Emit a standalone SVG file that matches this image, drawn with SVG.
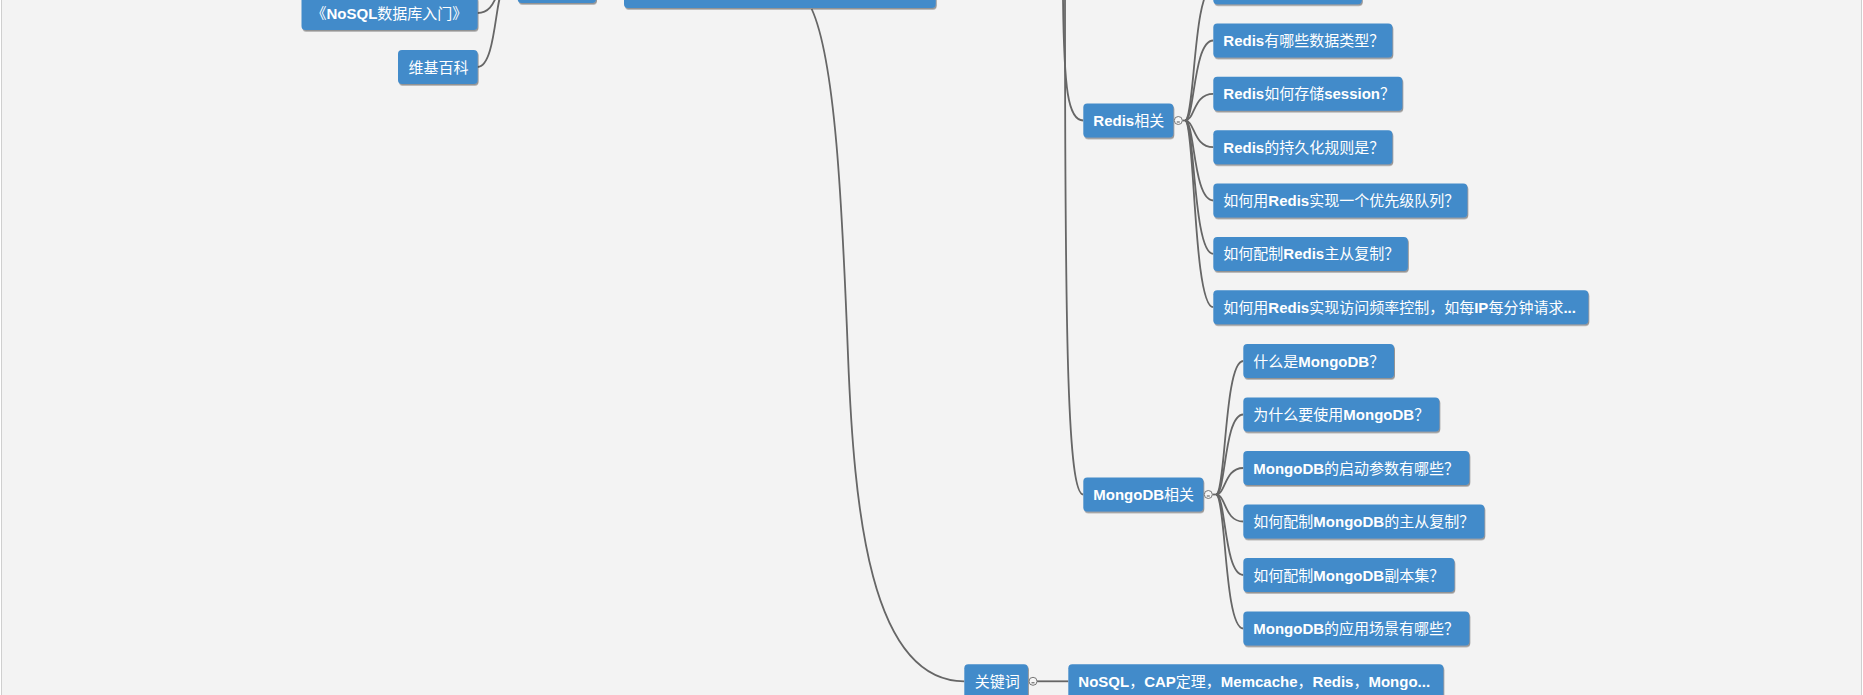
<svg xmlns="http://www.w3.org/2000/svg" width="1863" height="695" viewBox="0 0 1863 695">
<defs>
<style>
.bg{fill:#f3f3f3;stroke:#cfcfcf;stroke-width:1}
.n{fill:#428bca;filter:url(#ds)}
.t{font-family:'Liberation Sans','Noto Sans CJK SC',sans-serif;font-size:15px;fill:#ffffff}
.b{font-weight:bold}
.c{fill:none;stroke:#666666;stroke-width:1.8}
.tg{fill:#f6f6f6;stroke:#777777;stroke-width:1}
.tm{stroke:#555555;stroke-width:1}
</style>
<filter id="ds" x="-5%" y="-20%" width="115%" height="150%">
<feDropShadow dx="1" dy="1.6" stdDeviation="0.6" flood-color="#444444" flood-opacity="0.55"/>
</filter>
</defs>
<rect class="bg" x="1.5" y="-2" width="1860" height="700"/>

<g id="connectors">
<path class="c" d="M505,-13 C495,-13 497,13 477.6,13"/>
<path class="c" d="M505,-13 C495,-13 497,67 477.6,67"/>
<path class="c" d="M811.7,9 C835,60 842,200 848,355 S870,681.3 964.3,681.3"/>
<path class="c" d="M1063,-2 C1064,90 1068,120.5 1083.3,120.5"/>
<path class="c" d="M1065,-2 C1065,350 1068,494.5 1083.3,494.5"/>
<path class="c" d="M1182.3,120.5 L1185,120.5"/>
<path class="c" d="M1185,120.5 C1195,120.5 1193,-12.8 1213.3,-12.8"/>
<path class="c" d="M1185,120.5 C1195,120.5 1193,40.5 1213.3,40.5"/>
<path class="c" d="M1185,120.5 C1195,120.5 1193,93.8 1213.3,93.8"/>
<path class="c" d="M1185,120.5 C1195,120.5 1193,147.2 1213.3,147.2"/>
<path class="c" d="M1185,120.5 C1195,120.5 1193,200.5 1213.3,200.5"/>
<path class="c" d="M1185,120.5 C1195,120.5 1193,253.9 1213.3,253.9"/>
<path class="c" d="M1185,120.5 C1195,120.5 1193,307.2 1213.3,307.2"/>
<path class="c" d="M1212.3,494.5 L1216,494.5"/>
<path class="c" d="M1216,494.5 C1226,494.5 1224,361 1243.3,361"/>
<path class="c" d="M1216,494.5 C1226,494.5 1224,414.5 1243.3,414.5"/>
<path class="c" d="M1216,494.5 C1226,494.5 1224,468 1243.3,468"/>
<path class="c" d="M1216,494.5 C1226,494.5 1224,521.5 1243.3,521.5"/>
<path class="c" d="M1216,494.5 C1226,494.5 1224,575 1243.3,575"/>
<path class="c" d="M1216,494.5 C1226,494.5 1224,628.5 1243.3,628.5"/>
<path class="c" d="M1037,681.3 L1068.3,681.3"/>
</g>

<g id="node-left-parent"><rect class="n" x="517.7" y="-31" width="78.3" height="34" rx="4"/></g>
<g id="node-root"><rect class="n" x="624" y="-30" width="311.7" height="38" rx="4"/></g>
<g id="node-nosql-book"><rect class="n" x="301.5" y="-4" width="176" height="34" rx="4"/><text class="t" x="311.5" y="18.5">《<tspan class="b">NoSQL</tspan>数据库入门》</text></g>
<g id="node-wiki"><rect class="n" x="398" y="50" width="79.6" height="34" rx="4"/><text class="t" x="408.5" y="72.5">维基百科</text></g>

<g id="node-redis"><rect class="n" x="1083.3" y="103.5" width="90" height="34" rx="4"/><text class="t" x="1093.3" y="126"><tspan class="b">Redis</tspan>相关</text>
<circle class="tg" cx="1178.3" cy="120.5" r="4"/><line class="tm" x1="1176.8" y1="122" x2="1179.8" y2="122"/></g>
<g id="node-redis-0"><rect class="n" x="1213.3" y="-29.8" width="148.5" height="34" rx="4"/></g>
<g id="node-redis-1"><rect class="n" x="1213.3" y="23.5" width="179" height="34" rx="4"/><text class="t" x="1223.3" y="46"><tspan class="b">Redis</tspan>有哪些数据类型？</text></g>
<g id="node-redis-2"><rect class="n" x="1213.3" y="76.8" width="189" height="34" rx="4"/><text class="t" x="1223.3" y="99.3"><tspan class="b">Redis</tspan>如何存储<tspan class="b">session</tspan>？</text></g>
<g id="node-redis-3"><rect class="n" x="1213.3" y="130.2" width="179" height="34" rx="4"/><text class="t" x="1223.3" y="152.7"><tspan class="b">Redis</tspan>的持久化规则是？</text></g>
<g id="node-redis-4"><rect class="n" x="1213.3" y="183.5" width="254" height="34" rx="4"/><text class="t" x="1223.3" y="206">如何用<tspan class="b">Redis</tspan>实现一个优先级队列？</text></g>
<g id="node-redis-5"><rect class="n" x="1213.3" y="236.9" width="194.5" height="34" rx="4"/><text class="t" x="1223.3" y="259.4">如何配制<tspan class="b">Redis</tspan>主从复制？</text></g>
<g id="node-redis-6"><rect class="n" x="1213.3" y="290.2" width="375" height="34" rx="4"/><text class="t" x="1223.3" y="312.7">如何用<tspan class="b">Redis</tspan>实现访问频率控制，如每<tspan class="b">IP</tspan>每分钟请求<tspan class="b">...</tspan></text></g>

<g id="node-mongo"><rect class="n" x="1083.3" y="477.5" width="120" height="34" rx="4"/><text class="t" x="1093.3" y="500"><tspan class="b">MongoDB</tspan>相关</text>
<circle class="tg" cx="1208.3" cy="494.5" r="4"/><line class="tm" x1="1206.8" y1="496" x2="1209.8" y2="496"/></g>
<g id="node-mongo-0"><rect class="n" x="1243.3" y="344" width="150.7" height="34" rx="4"/><text class="t" x="1253.3" y="366.5">什么是<tspan class="b">MongoDB</tspan>？</text></g>
<g id="node-mongo-1"><rect class="n" x="1243.3" y="397.5" width="196" height="34" rx="4"/><text class="t" x="1253.3" y="420">为什么要使用<tspan class="b">MongoDB</tspan>？</text></g>
<g id="node-mongo-2"><rect class="n" x="1243.3" y="451" width="226" height="34" rx="4"/><text class="t" x="1253.3" y="473.5"><tspan class="b">MongoDB</tspan>的启动参数有哪些？</text></g>
<g id="node-mongo-3"><rect class="n" x="1243.3" y="504.5" width="241" height="34" rx="4"/><text class="t" x="1253.3" y="527">如何配制<tspan class="b">MongoDB</tspan>的主从复制？</text></g>
<g id="node-mongo-4"><rect class="n" x="1243.3" y="558" width="211" height="34" rx="4"/><text class="t" x="1253.3" y="580.5">如何配制<tspan class="b">MongoDB</tspan>副本集？</text></g>
<g id="node-mongo-5"><rect class="n" x="1243.3" y="611.5" width="226" height="34" rx="4"/><text class="t" x="1253.3" y="634"><tspan class="b">MongoDB</tspan>的应用场景有哪些？</text></g>

<g id="node-keywords"><rect class="n" x="964.3" y="664.3" width="63.6" height="34" rx="4"/><text class="t" x="974.8" y="686.8">关键词</text>
<circle class="tg" cx="1033" cy="681.3" r="4"/><line class="tm" x1="1031.5" y1="682.8" x2="1034.5" y2="682.8"/></g>
<g id="node-keywords-list"><rect class="n" x="1068.3" y="664.3" width="375" height="34" rx="4"/><text class="t" x="1078.3" y="686.8"><tspan class="b">NoSQL</tspan>，<tspan class="b">CAP</tspan>定理，<tspan class="b">Memcache</tspan>，<tspan class="b">Redis</tspan>，<tspan class="b">Mongo...</tspan></text></g>
</svg>
